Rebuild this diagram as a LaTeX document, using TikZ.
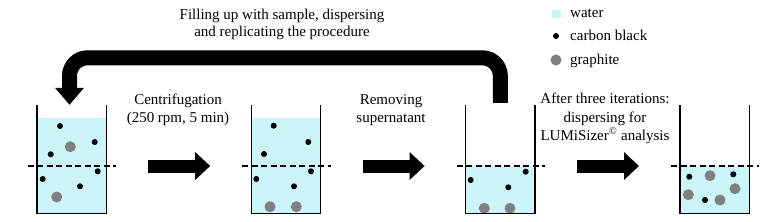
\documentclass[tikz,border=0pt]{standalone}
\usepackage{fontspec}
\setmainfont{Liberation Serif}
\usetikzlibrary{positioning,arrows.meta}

\definecolor{water}{RGB}{204,245,250}
\definecolor{graphite}{RGB}{128,128,128}

\tikzset{
  beaker/.style={minimum width=69pt, minimum height=108pt, inner sep=0pt},
  wall/.style={line width=1.4pt},
  level/.style={line width=1.2pt, dash pattern=on 6pt off 3.5pt},
  blockarrow/.style={line width=13pt, -{Triangle[length=15pt,width=27pt]},
    shorten <=42pt, shorten >=41pt},
  looparrow/.style={line width=15pt, rounded corners=18pt,
    -{Triangle[length=17pt,width=28pt]}},
  label/.style={align=center, inner sep=0pt, anchor=base,
    font=\fontsize{15}{18}\selectfont},
  legend/.style={inner sep=0pt, anchor=base west,
    font=\fontsize{15}{18}\selectfont}
}

\begin{document}
\begin{tikzpicture}[x=1pt, y=-1pt, node distance=145pt]
  \useasboundingbox (0,0) rectangle (780,222);
  \coordinate (lvl) at (0,166);

  % beakers
  \node[beaker] (b1) at (71.5,159) {};
  \node[beaker, right=of b1] (b2) {};
  \node[beaker, right=of b2] (b3) {};
  \node[beaker, right=of b3] (b4) {};

  % water
  \fill[water] (b1.south west) rectangle ([yshift=-13pt]b1.north east);
  \fill[water] (b2.south west) rectangle ([yshift=-13pt]b2.north east);
  \fill[water] (b3.south west) rectangle ([yshift=-61pt]b3.north east);
  \fill[water] (b4.south west) rectangle ([yshift=-61pt]b4.north east);

  % particles
  \fill (60,126) circle (3pt) (94.7,142) circle (3pt) (50.7,154.3) circle (3pt)
    (97.7,171.3) circle (3pt) (42.7,179) circle (3pt) (80,186.3) circle (3pt);
  \fill (273.7,125.7) circle (3pt) (308.3,142) circle (3pt) (264,154) circle (3pt)
    (311,171.3) circle (3pt) (256.3,179) circle (3pt) (294,186.3) circle (3pt);
  \fill (470.7,180) circle (3pt) (525.7,171.7) circle (3pt) (508.3,187.3) circle (3pt);
  \fill (689.3,176.7) circle (3pt) (733.3,174.3) circle (3pt) (705,200) circle (3pt);
  \fill[graphite] (70.3,146.7) circle (5.5pt) (56.7,197) circle (5.5pt)
    (270,206.7) circle (5.5pt) (296.3,206.7) circle (5.5pt)
    (484.3,208.3) circle (5.5pt) (510,208.3) circle (5.5pt)
    (710,175.7) circle (5.5pt) (735,188.7) circle (5.5pt)
    (688.3,194.7) circle (5.5pt) (720,200) circle (5.5pt);

  % walls and levels
  \foreach \b in {b1,b2,b3,b4} {
    \draw[wall] (\b.north west) -- (\b.south west) -- (\b.south east) -- (\b.north east);
    \draw[level] ([xshift=-9pt]\b.west |- lvl) -- ([xshift=10pt]\b.east |- lvl);
  }

  % arrows
  \draw[blockarrow] (b1.east |- lvl) -- (b2.west |- lvl);
  \draw[blockarrow] (b2.east |- lvl) -- (b3.west |- lvl);
  \draw[blockarrow] (b3.east |- lvl) -- (b4.west |- lvl);
  \draw[looparrow] ([yshift=2pt]b3.north) -- ++(0,-45) -| ([xshift=-2pt]b1.north);

  % labels
  \node[label] (centri) at (178,122.5) {Centrifugation\\(250 rpm, 5 min)};
  \node[label] (remove) at (391,122.5) {Removing\\supernatant};
  \node[label] (after) at (605,140) {After three iterations:\\dispersing for\\LUMiSizer\textsuperscript{\textcopyright} analysis};
  \node[label, font=\fontsize{15}{17}\selectfont] (refill) at (282,37)
    {Filling up with sample, dispersing\\and replicating the procedure};

  % legend
  \fill[water] (552,10.5) rectangle (561,18.5);
  \fill (556,36) circle (3pt);
  \fill[graphite] (556,60) circle (5.5pt);
  \node[legend] (lwater) at (570,18) {water};
  \node[legend] (lcarbon) at (570,41) {carbon black};
  \node[legend] (lgraph) at (570,64.5) {graphite};
\end{tikzpicture}
\end{document}
